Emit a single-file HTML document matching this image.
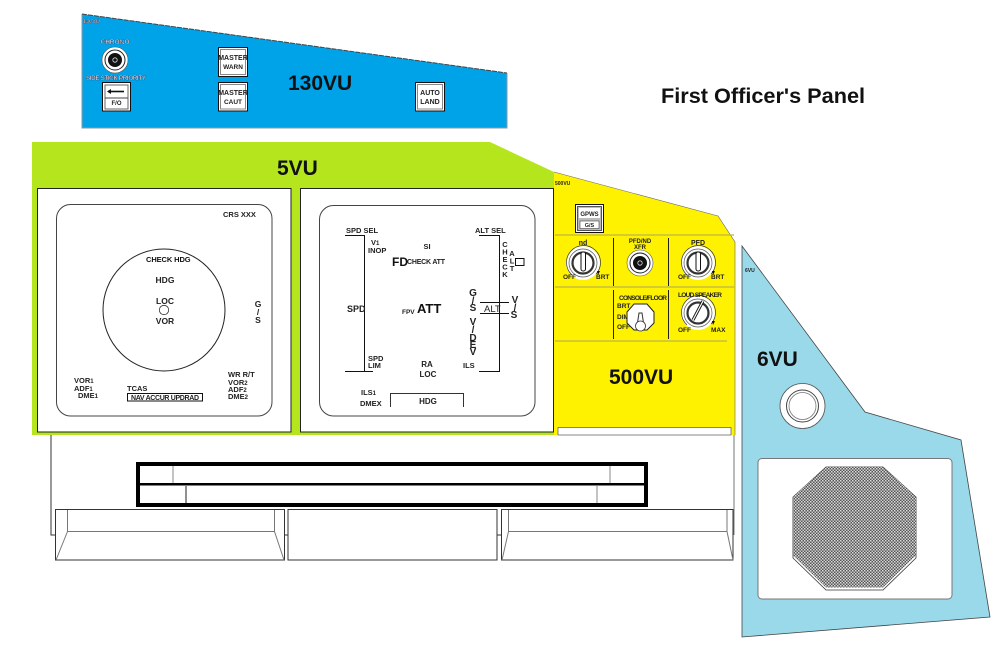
<!DOCTYPE html>
<html><head><meta charset="utf-8"><style>
html,body{margin:0;padding:0;background:#fff;width:1000px;height:661px;overflow:hidden}
svg{display:block}
text{font-family:"Liberation Sans",sans-serif;font-weight:bold;fill:#222}
.t{font-size:21px;fill:#111}
.s{font-size:7.5px;fill:#222}
.m{font-size:8.5px;fill:#222}
.w{font-size:6.5px;fill:#fff;stroke:#335;stroke-width:.35}
.k{font-size:7px;fill:#222}
.c{text-anchor:middle}
.l{stroke:#111;fill:none;stroke-width:1}
.l2{stroke:#111;fill:none;stroke-width:1.5}
.g{stroke:#777;fill:none;stroke-width:1}
</style></head><body>
<svg width="1000" height="661" viewBox="0 0 1000 661" xmlns="http://www.w3.org/2000/svg">
<defs>
<pattern id="mesh" width="3" height="3" patternUnits="userSpaceOnUse"><rect width="3" height="3" fill="#555"/><rect x="0" y="0" width="1.5" height="1.5" fill="#ddd"/><rect x="1.5" y="1.5" width="1.5" height="1.5" fill="#ccc"/></pattern>
<g id="knob">
<circle r="17" fill="#fff"/>
<path d="M-11 12A17 17 0 1 1 13 11" fill="none" stroke="#333" stroke-width=".7"/>
<circle r="14" fill="#fff" stroke="#555" stroke-width=".7"/>
<circle r="10.500" fill="#fff" stroke="#333" stroke-width="2.200"/>
<path d="M14 8l3 0-2 4z" fill="#111"/>
</g>
<g id="coax">
<circle r="13" fill="#fff" stroke="#555" stroke-width=".6"/>
<circle r="10" fill="#fff" stroke="#222" stroke-width="1"/>
<circle r="7" fill="#111"/>
<circle r="2.200" fill="none" stroke="#ddd" stroke-width=".8"/>
</g>
</defs>

<!-- structure lines -->
<path d="M51 435V535H55M284 535H288M497 535H501" class="g" style="stroke:#333"/>
<path d="M734 242V535" stroke="#777" stroke-width="1" fill="none"/>

<!-- 130VU -->
<polygon points="82,14 507,73 507,128 82,128" fill="#00a2e8"/>
<path d="M507 73V128H82V14" fill="none" stroke="#8a9aa5" stroke-width="1"/>
<path d="M82 14L507 73" fill="none" stroke="#444" stroke-width="1" stroke-dasharray="5 1"/>
<text x="83" y="23" class="w" style="font-size:5.500px">130VU</text>
<text x="115" y="44" class="w c">CHRONO</text>
<use href="#coax" x="115" y="60"/>
<text x="86" y="80" class="w" style="font-size:6.400px" textLength="60">SIDE STICK PRIORITY</text>
<rect x="102.500" y="82.500" width="28" height="28.500" fill="#fff" stroke="#111"/>
<rect x="105" y="85" width="23" height="24" fill="#fff" stroke="#666"/>
<line x1="105" y1="98" x2="128" y2="98" stroke="#444"/>
<path d="M108 91.500H124" stroke="#111" stroke-width="1.600"/>
<path d="M107 91.500l4-2.500v5z" fill="#111"/>
<text x="116.500" y="105" class="c" style="font-size:6px">F/O</text>
<rect x="218.500" y="47.500" width="29" height="29" fill="#fff" stroke="#111"/>
<rect x="220.500" y="49.500" width="25" height="25" fill="#fff" stroke="#888"/>
<text x="233" y="60" class="c k">MASTER</text><text x="233" y="69" class="c k" style="font-size:6.500px">WARN</text>
<rect x="218.500" y="82.500" width="29" height="28.500" fill="#fff" stroke="#111"/>
<rect x="220.500" y="84.500" width="25" height="24.500" fill="#fff" stroke="#888"/>
<text x="233" y="95" class="c k">MASTER</text><text x="233" y="104" class="c k" style="font-size:6.500px">CAUT</text>
<rect x="415.500" y="82.500" width="29" height="28.500" fill="#fff" stroke="#111"/>
<rect x="417.500" y="84.500" width="25" height="24.500" fill="#fff" stroke="#888"/>
<text x="430" y="95" class="c k">AUTO</text><text x="430" y="104" class="c k">LAND</text>
<text x="288" y="90" class="t">130VU</text>
<text x="661" y="103" style="font-size:21.700px;fill:#111">First Officer's Panel</text>

<!-- 5VU -->
<polygon points="32,142 490,142 554,172 554,435 32,435" fill="#b5e61d"/>
<text x="277" y="175" class="t">5VU</text>
<rect x="37.500" y="188.500" width="253.500" height="243.500" fill="#fff" stroke="#222"/>
<rect x="300.500" y="188.500" width="253" height="243.500" fill="#fff" stroke="#222"/>

<!-- left display -->
<rect x="56.500" y="204.500" width="215.500" height="211.500" rx="14" fill="#fff" stroke="#444"/>
<circle cx="164" cy="310" r="61" fill="#fff" stroke="#222" stroke-width="1"/>
<circle cx="164" cy="310" r="4.700" fill="#fff" stroke="#333" stroke-width=".8"/>
<text x="223" y="217" class="s">CRS XXX</text>
<text x="146" y="262" class="s" style="fill:#111;letter-spacing:-.1px">CHECK HDG</text>
<text x="165" y="283" class="m c">HDG</text>
<text x="165" y="304" class="m c">LOC</text>
<text x="165" y="324" class="m c">VOR</text>
<text x="258" y="307" class="m c">G</text><text x="258" y="315" class="m c">/</text><text x="258" y="323" class="m c">S</text>
<text x="74" y="383" class="s">VOR<tspan font-size="6">1</tspan></text>
<text x="74" y="391" class="s">ADF<tspan font-size="6">1</tspan></text>
<text x="78" y="398" class="s">DME<tspan font-size="6">1</tspan></text>
<text x="127" y="391" class="s">TCAS</text>
<rect x="127.500" y="393.500" width="75" height="7.500" fill="#fff" stroke="#111"/>
<text x="131" y="400" class="s" style="font-size:7px" textLength="68">NAV ACCUR UPDRAD</text>
<text x="228" y="377" class="s">WR R/T</text>
<text x="228" y="385" class="s">VOR<tspan font-size="6">2</tspan></text>
<text x="228" y="392" class="s">ADF<tspan font-size="6">2</tspan></text>
<text x="228" y="399" class="s">DME<tspan font-size="6">2</tspan></text>

<!-- right display -->
<rect x="319.500" y="205.500" width="215.500" height="210.500" rx="14" fill="#fff" stroke="#444"/>
<path d="M345 235.500H364.500V371.500H345M364.500 371.500H373" class="l"/>
<path d="M479 235.500H499.500V371.500H479" class="l"/>
<path d="M480 302.500H509M480 313.500H509" class="l"/>
<path d="M390.500 407V393.500H463.500V407" class="l" style="stroke:#333"/>
<rect x="515.500" y="258.500" width="8.500" height="7" fill="#fff" stroke="#111"/>
<text x="346" y="233" class="s">SPD SEL</text>
<text x="475" y="233" class="s">ALT SEL</text>
<text x="371" y="245" class="s">V<tspan font-size="6">1</tspan></text>
<text x="368" y="253" class="s">INOP</text>
<text x="427" y="249" class="s c">SI</text>
<text x="392" y="266" style="font-size:12px;fill:#111">FD</text>
<text x="407" y="264" class="s" style="font-size:7px" textLength="38">CHECK ATT</text>
<text x="347" y="312" class="m" style="font-size:9px">SPD</text>
<text x="402" y="314" class="s" style="font-size:6.500px">FPV</text>
<text x="417" y="313" style="font-size:13px;fill:#111">ATT</text>
<text x="368" y="361" class="s">SPD</text>
<text x="368" y="368" class="s">LIM</text>
<text x="427" y="367" class="s c" style="font-size:8px">RA</text>
<text x="428" y="377" class="s c" style="font-size:8px">LOC</text>
<text x="361" y="395" class="s">ILS<tspan font-size="6">1</tspan></text>
<text x="360" y="406" class="s">DMEX</text>
<text x="428" y="404" class="s c" style="font-size:8px">HDG</text>
<g class="s c" text-anchor="middle">
<text x="505" y="247">C</text><text x="505" y="254.500">H</text><text x="505" y="262">E</text><text x="505" y="269.500">C</text><text x="505" y="277">K</text>
<text x="512" y="256">A</text><text x="512" y="263.500">L</text><text x="512" y="271">T</text>
</g>
<g style="font-size:10px" text-anchor="middle" fill="#222">
<text x="473" y="296" style="font-size:10px">G</text><text x="473" y="304" style="font-size:10px">/</text><text x="473" y="311" style="font-size:10px">S</text>
<text x="473" y="325" style="font-size:10px">V</text><text x="473" y="333" style="font-size:10px">/</text><text x="473" y="341" style="font-size:10px">D</text><text x="473" y="348" style="font-size:10px">E</text><text x="473" y="355" style="font-size:10px">V</text>
<text x="515" y="303" style="font-size:10px">V</text><text x="515" y="311" style="font-size:10px">/</text><text x="514" y="318" style="font-size:10px">S</text>
</g>
<text x="484" y="312" style="font-size:9.500px;font-weight:normal;-webkit-text-stroke:.3px #222">ALT</text>
<text x="463" y="368" class="s">ILS</text>

<!-- 500VU -->
<polygon points="554,172 718,216 735,242 735,435 554,435" fill="#fff200"/>
<path d="M554 172L718 216L735 242V435" fill="none" stroke="#666" stroke-width=".6"/>
<path d="M555 235H734M555 287H734M555 341H727" stroke="#bdb44a" stroke-width="1.200"/>
<path d="M613.500 238V286M668.500 238V286M613.500 290V339M668.500 290V339" stroke="#222" stroke-width="1"/>
<text x="555" y="185" class="s" style="font-size:5px">500VU</text>
<rect x="575.500" y="204.500" width="28" height="28" fill="#fff" stroke="#111"/>
<rect x="577.500" y="206.500" width="24" height="24" fill="#bbb" stroke="#555"/>
<rect x="579" y="208" width="21" height="10" fill="#fff"/>
<rect x="580" y="221" width="19" height="7.500" fill="#fff" stroke="#444" stroke-width=".6"/>
<text x="589.500" y="216" class="c k" style="font-size:6px">GPWS</text>
<text x="589.500" y="227" class="c k" style="font-size:5.500px">G/S</text>
<rect x="558" y="427.500" width="173" height="7.500" fill="#fff" stroke="#555" stroke-width=".7"/>
<text x="609" y="384" class="t">500VU</text>

<use href="#knob" x="583" y="263"/>
<rect x="581" y="252" width="4.500" height="19" rx="2" fill="#fff" stroke="#111"/>
<use href="#coax" x="640" y="263"/>
<use href="#knob" x="698" y="263"/>
<rect x="696" y="252" width="4.500" height="19" rx="2" fill="#fff" stroke="#111"/>
<use href="#knob" x="698" y="313"/>
<line x1="693" y1="320" x2="703" y2="301" stroke="#111" stroke-width="3"/><line x1="693" y1="320" x2="703" y2="301" stroke="#fff" stroke-width="1.200"/>
<text x="583" y="245" class="c k">nd</text>
<text x="640" y="243" class="c k" style="font-size:6px">PFD/ND</text><text x="640" y="249" class="c k" style="font-size:6px">XFR</text>
<text x="698" y="245" class="c k">PFD</text>
<text x="563" y="279" class="k" style="font-size:6.500px">OFF</text><text x="596" y="279" class="k" style="font-size:6.500px">BRT</text>
<text x="678" y="279" class="k" style="font-size:6.500px">OFF</text><text x="711" y="279" class="k" style="font-size:6.500px">BRT</text>
<text x="619" y="300" class="k" style="font-size:6.500px" textLength="48">CONSOLE/FLOOR</text>
<text x="678" y="297" class="k" style="font-size:6.500px" textLength="44">LOUD SPEAKER</text>
<text x="617" y="308" class="k" style="font-size:6.500px">BRT</text>
<text x="617" y="319" class="k" style="font-size:6.500px">DIM</text>
<text x="617" y="329" class="k" style="font-size:6.500px">OFF</text>
<text x="678" y="332" class="k" style="font-size:6.500px">OFF</text>
<text x="711" y="332" class="k" style="font-size:6.500px">MAX</text>
<polygon points="634,304 647,304 654,312 654,323 647,330 634,330 627,323 627,312" fill="#fff" stroke="#222" stroke-width="1"/>
<path d="M637 326L639 313H642L644 326" fill="#fff" stroke="#333" stroke-width="1"/>
<circle cx="640.500" cy="326" r="5" fill="#fff" stroke="#333" stroke-width=".8"/>

<!-- 6VU -->
<polygon points="742,246 865,412 961,440 990,617 742,637" fill="#99d9ea" stroke="#444" stroke-width=".8"/>
<text x="757" y="366" class="t">6VU</text>
<text x="745" y="272" class="s" style="font-size:5px">6VU</text>
<circle cx="802.500" cy="406" r="22.500" fill="#fff" stroke="#555" stroke-width=".8"/>
<circle cx="802.500" cy="406" r="16" fill="#fff" stroke="#444" stroke-width="1"/>
<circle cx="802.500" cy="406" r="13.500" fill="#fff" stroke="#777" stroke-width=".8"/>
<rect x="758" y="458.500" width="194" height="140.500" rx="4" fill="#fff" stroke="#777" stroke-width="1"/>
<polygon points="826,467 883,467 916,497 916,558 883,590 826,590 793,558 793,497" fill="#fff" stroke="#333" stroke-width=".8"/>
<polygon points="826,467 883,467 916,497 916,555 883,587.500 826,587.500 793,555 793,497" fill="url(#mesh)"/>

<!-- radio box -->
<rect x="138" y="464" width="508" height="41" fill="#fff" stroke="#000" stroke-width="4"/>
<rect x="138" y="483" width="508" height="2.500" fill="#000"/>
<path d="M173 466V483M610 466V483" stroke="#888" stroke-width="1"/>
<path d="M186 486V503" stroke="#222" stroke-width="1"/>
<path d="M597 486V503" stroke="#888" stroke-width="1"/>

<!-- drawers -->
<rect x="55.500" y="509.500" width="229" height="50.500" fill="#fff" stroke="#333"/>
<path d="M67.500 510V531.500H274.500V510M67.500 531.500L56 560M274.500 531.500L284 560" fill="none" stroke="#777"/>
<rect x="288" y="509.500" width="209" height="50.500" fill="#fff" stroke="#333"/>
<rect x="501.500" y="509.500" width="231.500" height="50.500" fill="#fff" stroke="#333"/>
<path d="M508.500 510V531.500H727V510M508.500 531.500L502 560M727 531.500L733 560" fill="none" stroke="#777"/>
</svg>
</body></html>
